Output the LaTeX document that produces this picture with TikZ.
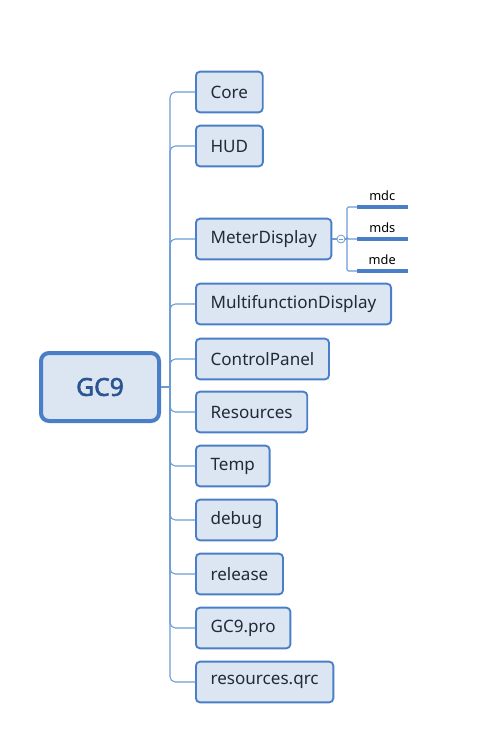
\documentclass[tikz,border=0pt]{standalone}
\usepackage{fontspec}
\setmainfont{Noto Sans}
\newfontfamily\heavyfont{Noto Sans}[FakeBold=2.2]
\usetikzlibrary{positioning,calc}
\usepackage{xcolor}
\definecolor{edge}{HTML}{4A7FC8}
\definecolor{wire}{HTML}{6C9BD6}
\definecolor{pale}{HTML}{DCE6F2}
\definecolor{ink}{HTML}{1F2A3A}
\definecolor{title}{HTML}{2B5591}
\tikzset{
  rootnode/.style={rectangle,rounded corners=6pt,draw=edge,fill=pale,text=title,
    line width=3pt,minimum width=88.5pt,minimum height=51pt,
    font=\heavyfont\fontsize{18.5}{22}\selectfont},
  topic/.style={rectangle,rounded corners=3pt,draw=edge,fill=pale,text=ink,
    line width=1.4pt,minimum height=30.5pt,inner xsep=11pt,anchor=west,
    font=\fontsize{12.8}{15}\selectfont},
  subtopic/.style={rectangle,minimum width=37.5pt,minimum height=16pt,
    inner sep=0pt,anchor=south west,text=black,font=\fontsize{9.6}{11}\selectfont},
  wire/.style={draw=wire,line width=0.8pt,rounded corners=4pt},
  underline/.style={draw=edge,line width=2.4pt},
  fold/.style={circle,draw=wire,fill=white,line width=0.6pt,minimum size=6pt,inner sep=0pt},
}
\begin{document}
\begin{tikzpicture}[x=0.75pt,y=-0.75pt]
  \useasboundingbox (0,0) rectangle (491,736);
  \node[rootnode] (gc9) at (100,387) {GC9};
  \coordinate (hub) at (170,387);
  % main topics
  \node[topic] (core) at (195,92) {Core};
  \node[topic] (hud) at (195,146) {HUD};
  \node[topic] (meter) at (195,239) {MeterDisplay};
  \node[topic] (mfd) at (195,304) {MultifunctionDisplay};
  \node[topic] (panel) at (195,359) {ControlPanel};
  \node[topic] (res) at (195,412) {Resources};
  \node[topic] (temp) at (195,466) {Temp};
  \node[topic] (debug) at (195,520) {debug};
  \node[topic] (release) at (195,574) {release};
  \node[topic] (pro) at (195,628) {GC9.pro};
  \node[topic] (qrc) at (195,682) {resources.qrc};
  \draw[wire] (gc9.east) -- (hub);
  \foreach \t in {core,hud,meter,mfd,panel,res,temp,debug,release,pro,qrc}
    \draw[wire] (hub) |- (\t.west);
  % MeterDisplay subtopics
  \node[fold] (fold) at (341,239) {};
  \draw[draw=wire,line width=0.6pt] ($(fold.center)+(-2.2,0)$) -- ($(fold.center)+(2.2,0)$);
  \coordinate (subhub) at (347,239);
  \node[subtopic] (mdc) at (357,207) {mdc};
  \node[subtopic] (mds) at (357,239) {mds};
  \node[subtopic] (mde) at (357,271) {mde};
  \draw[wire] (meter.east) -- (fold.west);
  \draw[wire] (fold.east) -- (subhub);
  \foreach \s in {mdc,mds,mde}{
    \draw[wire,rounded corners=1pt] (subhub) |- (\s.south west);
    \draw[underline] (\s.south west) -- (\s.south east);
  }
\end{tikzpicture}
\end{document}
